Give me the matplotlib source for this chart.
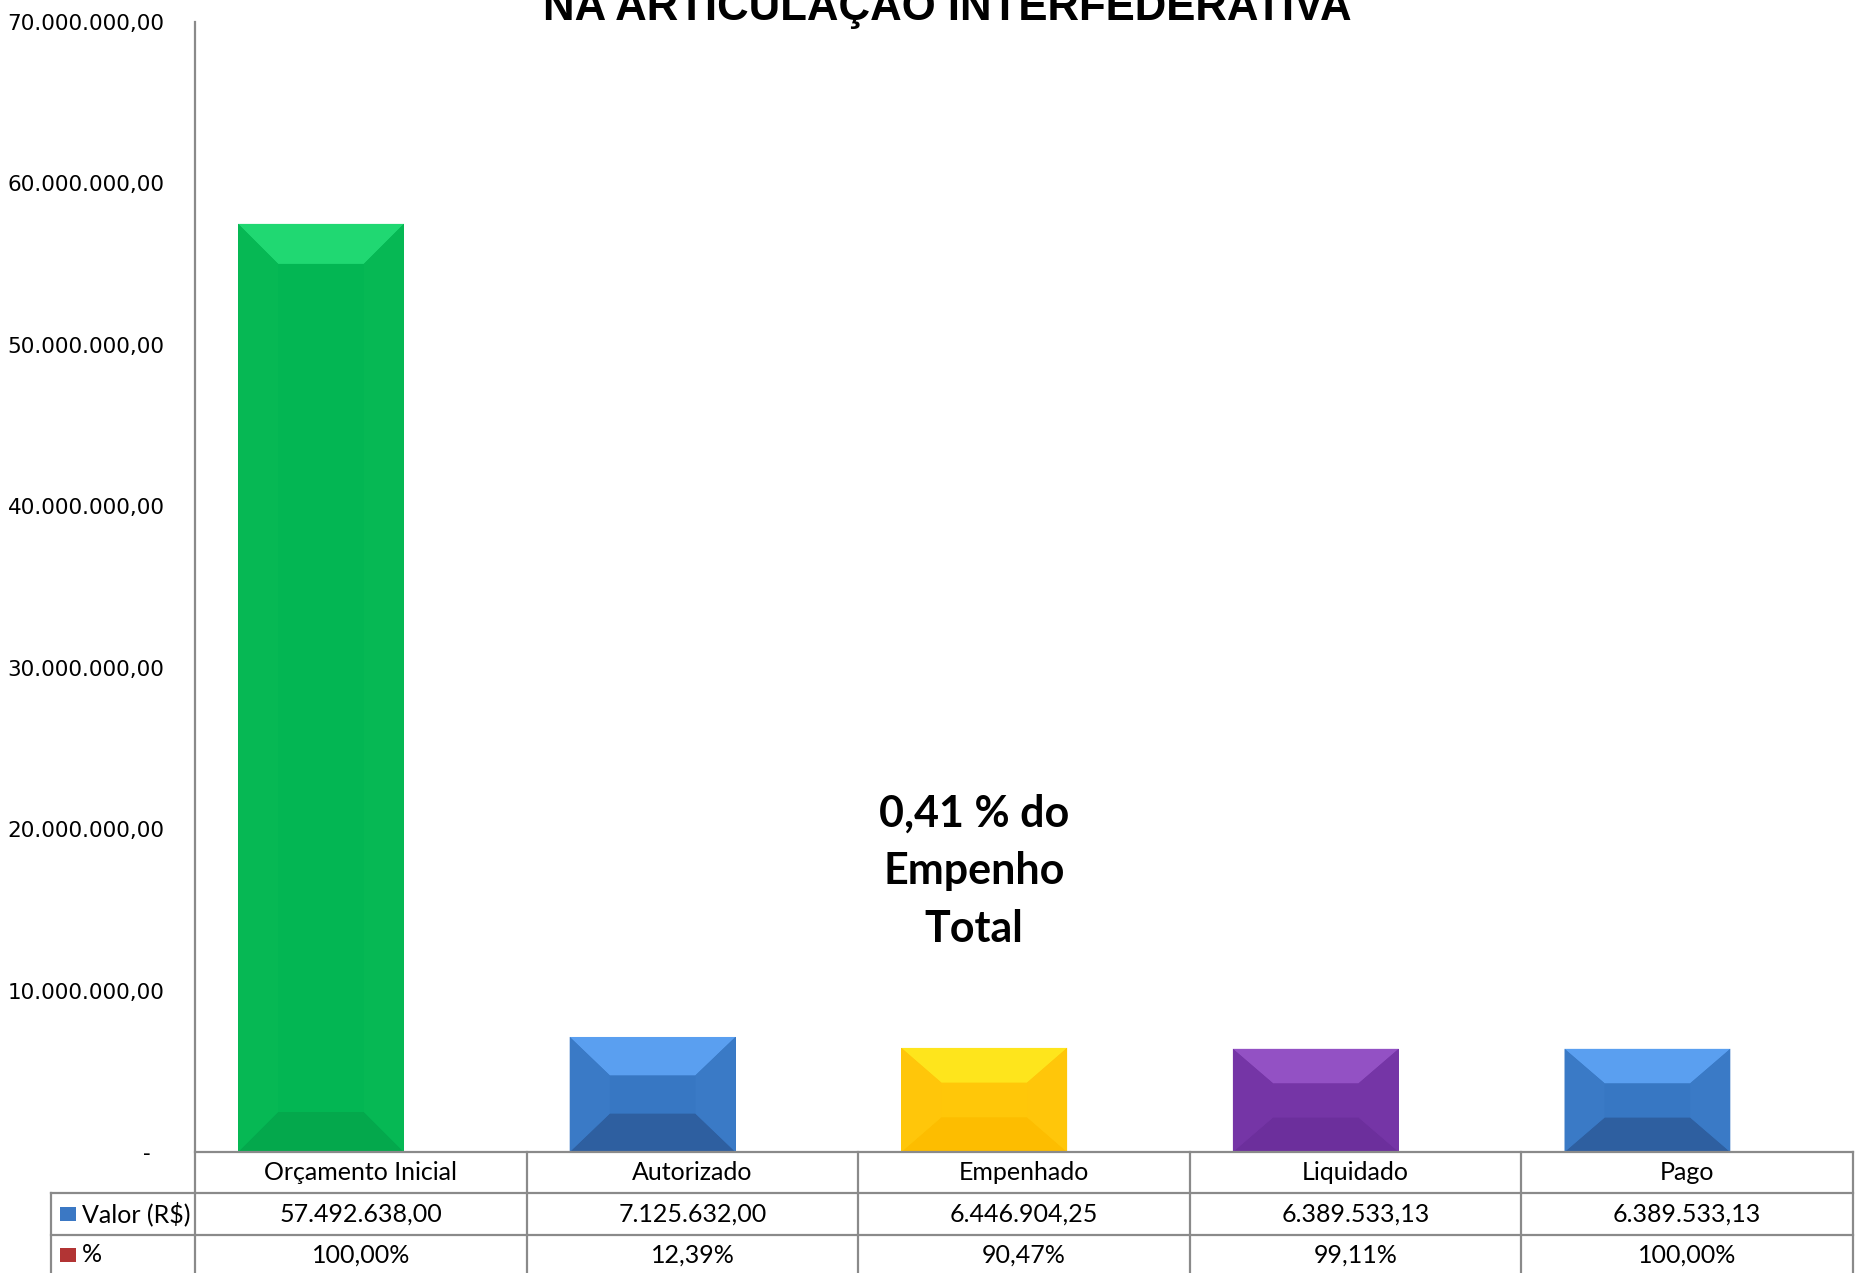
#!/usr/bin/env python
import matplotlib
matplotlib.use('Agg')
import matplotlib.pyplot as plt
from matplotlib.patches import Polygon, Rectangle
from matplotlib.transforms import blended_transform_factory

# data
categories = ['Orçamento Inicial', 'Autorizado', 'Empenhado', 'Liquidado', 'Pago']
values = [57492638.00, 7125632.00, 6446904.25, 6389533.13, 6389533.13]
value_labels = ['57.492.638,00', '7.125.632,00', '6.446.904,25', '6.389.533,13', '6.389.533,13']
pct_labels = ['100,00%', '12,39%', '90,47%', '99,11%', '100,00%']
yticks = [0, 10e6, 20e6, 30e6, 40e6, 50e6, 60e6, 70e6]

title = 'NA ARTICULAÇÃO INTERFEDERATIVA'
note = '0,41 % do\nEmpenho\nTotal'

# bevel colours: (face, top, side, bottom)
bar_styles = [
    ('#03b653', '#20d872', '#06b854', '#04a84c'),
    ('#3777c3', '#5a9ff0', '#3a7ac6', '#2e5fa0'),
    ('#ffc709', '#fee51c', '#ffc60a', '#fdbd00'),
    ('#7535a6', '#9351c4', '#7535a6', '#6c2f9c'),
    ('#3777c3', '#5a9ff0', '#3a7ac6', '#2e5fa0'),
]

GRID = '#8a8a8a'
TFONT = 'Lato'
TSIZE = 18


def bevel(ax, rect, style, bx, by):
    x, w, h = rect.get_x(), rect.get_width(), rect.get_height()
    b = min(by, h / 3.0)
    face, top, side, bottom = style
    rect.set_facecolor(face)
    polys = [
        ([(x, h), (x + w, h), (x + w - bx, h - b), (x + bx, h - b)], top),
        ([(x, 0), (x + w, 0), (x + w - bx, b), (x + bx, b)], bottom),
        ([(x, 0), (x + bx, b), (x + bx, h - b), (x, h)], side),
        ([(x + w, 0), (x + w - bx, b), (x + w - bx, h - b), (x + w, h)], side),
    ]
    for pts, c in polys:
        ax.add_patch(Polygon(pts, closed=True, facecolor=c, edgecolor='none', zorder=3))


def plot_chart():
    fig = plt.figure(figsize=(18.64, 12.73), dpi=100)
    W, H = 1864.0, 1273.0
    ax = fig.add_axes([195 / W, 121 / H, 1658 / W, 1130 / H])

    n = len(categories)
    ind = list(range(n))
    width = 0.5
    xs = [i - 0.12 for i in ind]
    rects = ax.bar(xs, values, width, zorder=2, linewidth=0)

    ax.set_xlim(-0.5, n - 0.5)
    ax.set_ylim(0, 70e6)

    # bevel in data units (40 px)
    bx = 40 / (1658.0 / n)
    by = 40 / 1130.0 * 70e6
    for r, st in zip(rects, bar_styles):
        bevel(ax, r, st, bx, by)

    ax.set_yticks(yticks)
    ylabels = ['-  '] + ['{:,.2f}'.format(v).replace(',', 'X').replace('.', ',').replace('X', '.') for v in yticks[1:]]
    ax.set_yticklabels(ylabels, fontsize=15.5, family='DejaVu Sans')
    ax.tick_params(axis='y', length=0, pad=22)
    ax.set_xticks([])
    for s in ['top', 'right', 'bottom', 'left']:
        ax.spines[s].set_visible(False)

    # table lines
    tr = blended_transform_factory(ax.transData, ax.transAxes)
    px = 1 / (1658.0 / n)
    py = 1 / 1130.0
    r1 = -41 * py
    r2 = -83 * py
    r3 = -130 * py
    xl = -0.5 - 144 * px
    kw = dict(color=GRID, lw=1.6, transform=tr, clip_on=False, zorder=5)
    ax.plot([-0.5, -0.5], [1.0, r3], **kw)
    ax.plot([-0.5, n - 0.5], [0, 0], **kw)
    ax.plot([xl, n - 0.5], [r1, r1], **kw)
    ax.plot([xl, n - 0.5], [r2, r2], **kw)
    ax.plot([xl, xl], [r1, r3], **kw)
    for i in ind:
        ax.plot([i + 0.5, i + 0.5], [0, r3], **kw)

    yp = r2 - 20 * py
    for i in ind:
        ax.text(i, r1 / 2, categories[i], transform=tr, ha='center', va='center',
                fontsize=TSIZE, family=TFONT, clip_on=False)
        ax.text(i, (r1 + r2) / 2, value_labels[i], transform=tr, ha='center', va='center',
                fontsize=TSIZE, family=TFONT, clip_on=False)
        ax.text(i, yp, pct_labels[i], transform=tr, ha='center', va='center',
                fontsize=TSIZE, family=TFONT, clip_on=False)

    # legend keys in first column
    lx = xl + 9 * px
    ax.add_patch(Rectangle((lx, (r1 + r2) / 2 - 7 * py), 16 * px, 14 * py, transform=tr,
                           facecolor='#3b78c4', edgecolor='none', clip_on=False))
    ax.add_patch(Rectangle((lx, yp - 7 * py), 16 * px, 14 * py, transform=tr,
                           facecolor='#b23434', edgecolor='none', clip_on=False))
    ax.text(lx + 22 * px, (r1 + r2) / 2, 'Valor (R$)', transform=tr, ha='left', va='center',
            fontsize=TSIZE, family=TFONT, clip_on=False)
    ax.text(lx + 22 * px, yp, '%', transform=tr, ha='left', va='center',
            fontsize=TSIZE, family=TFONT, clip_on=False)

    ax.text(1.85, 17.4e6, note, ha='center', va='center', fontsize=31, fontweight='bold',
            family=TFONT, linespacing=1.54, zorder=6)

    fig.text(0.508, 1 - 20 / H, title, ha='center', va='baseline', fontsize=31.5,
             fontweight='bold', family='Liberation Sans')

    plt.savefig('out.png', dpi=100)


if __name__ == "__main__":
    plot_chart()
